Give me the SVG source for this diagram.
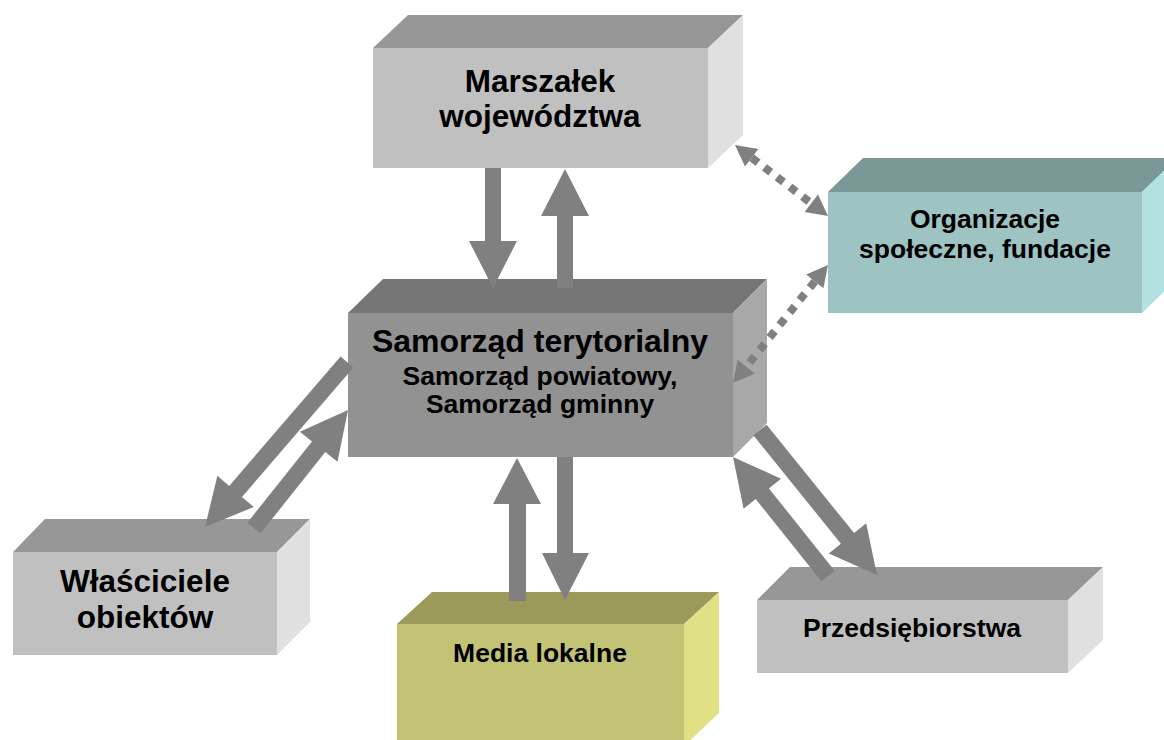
<svg xmlns="http://www.w3.org/2000/svg" width="1164" height="740" viewBox="0 0 1164 740">
<style>
text{font-family:"Liberation Sans",Arial,sans-serif;font-weight:bold;fill:#000;text-anchor:middle}
.big{font-size:31.5px}
.mid{font-size:26.5px}
.gt{fill:#979797}.gf{fill:#c0c0c0}.gs{fill:#e0e0e0}
.ct{fill:#767676}.cf{fill:#929292}.cs{fill:#a8a8a8}
.tt{fill:#799896}.tf{fill:#9dc3c3}.ts{fill:#b3e1e1}
.yt{fill:#9a9a5a}.yf{fill:#c3c375}.ys{fill:#e0e085}
.arr{fill:#808080}
.dot{stroke:#808080;stroke-width:8;stroke-dasharray:8 8;fill:none}
</style>
<rect width="1164" height="740" fill="#fff"/>
<g id="marszalek">
<polygon class="gt" points="373,48 408,15 743,15 708,48"/>
<rect class="gf" x="373" y="48" width="335" height="120"/>
<polygon class="gs" points="708,48 743,15 743,135 708,168"/>
<text class="big" x="540" y="92">Marszałek</text>
<text class="big" x="540" y="127">województwa</text>
</g>
<g id="organizacje">
<polygon class="tt" points="828,192 863,158 1177,158 1142,192"/>
<rect class="tf" x="828" y="192" width="314" height="121"/>
<polygon class="ts" points="1142,192 1177,158 1177,279 1142,313"/>
<text class="mid" x="985" y="228">Organizacje</text>
<text class="mid" x="985" y="258">społeczne, fundacje</text>
</g>
<g id="samorzad">
<polygon class="ct" points="348,313 383,279 767,279 733,313"/>
<rect class="cf" x="348" y="313" width="385" height="144"/>
<polygon class="cs" points="733,313 767,279 767,423 733,457"/>
<text class="big" x="540" y="352" style="font-size:32px">Samorząd terytorialny</text>
<text class="mid" x="540" y="385">Samorząd powiatowy,</text>
<text class="mid" x="540" y="413">Samorząd gminny</text>
</g>
<g id="wlasciciele">
<polygon class="gt" points="13,552 45,519 310,519 277,552"/>
<rect class="gf" x="13" y="552" width="264" height="103"/>
<polygon class="gs" points="277,552 310,519 310,622 277,655"/>
<text class="big" x="145" y="592">Właściciele</text>
<text class="big" x="145" y="628">obiektów</text>
</g>
<g id="media">
<polygon class="yt" points="397,624 432,592 719,592 684,624"/>
<rect class="yf" x="397" y="624" width="287" height="122"/>
<polygon class="ys" points="684,624 719,592 719,713 684,746"/>
<text class="mid" x="540" y="662">Media lokalne</text>
</g>
<g id="przedsiebiorstwa">
<polygon class="gt" points="757,600 790,567 1103,567 1068,600"/>
<rect class="gf" x="757" y="600" width="311" height="73"/>
<polygon class="gs" points="1068,600 1103,567 1103,640 1068,673"/>
<text class="mid" x="912" y="637">Przedsiębiorstwa</text>
</g>
<g id="connectors">
<polygon class="arr" points="485,168 501,168 501,241 517,241 493,288 469,241 485,241"/>
<polygon class="arr" points="557,288 573,288 573,216 589,216 565,169 541,216 557,216"/>
<polygon class="arr" points="509,601 526,601 526,504 541,504 517,458 493,504 509,504"/>
<polygon class="arr" points="557,457 573,457 573,553 589,553 565,600 542,553 557,553"/>
<polygon class="arr" points="340.6,356.5 353.4,367.5 242.0,497.0 253.8,507.0 205,527 217.4,475.8 229.2,485.9"/>
<polygon class="arr" points="260.6,533.3 325.3,452.1 337.5,461.7 348,410 299.9,431.8 312.0,441.5 247.3,522.7"/>
<polygon class="arr" points="766.6,424.7 854.1,533.1 866.2,523.3 877,575 828.8,553.5 840.9,543.7 753.4,435.3"/>
<polygon class="arr" points="834.6,570.7 768.9,488.4 781.0,478.7 733,457 743.6,508.7 755.7,499.0 821.4,581.3"/>
<line class="dot" x1="751.7" y1="157.7" x2="811.3" y2="203.3"/>
<polygon class="arr" points="735,145 745.0,166.5 758.4,149.0"/>
<polygon class="arr" points="828,216 804.6,212.0 818.0,194.6"/>
<line class="dot" x1="814.8" y1="281.4" x2="746.2" y2="366.6"/>
<polygon class="arr" points="828,265 823.4,288.3 806.2,274.5"/>
<polygon class="arr" points="733,383 754.8,373.5 737.6,359.7"/>
</g>
</svg>
